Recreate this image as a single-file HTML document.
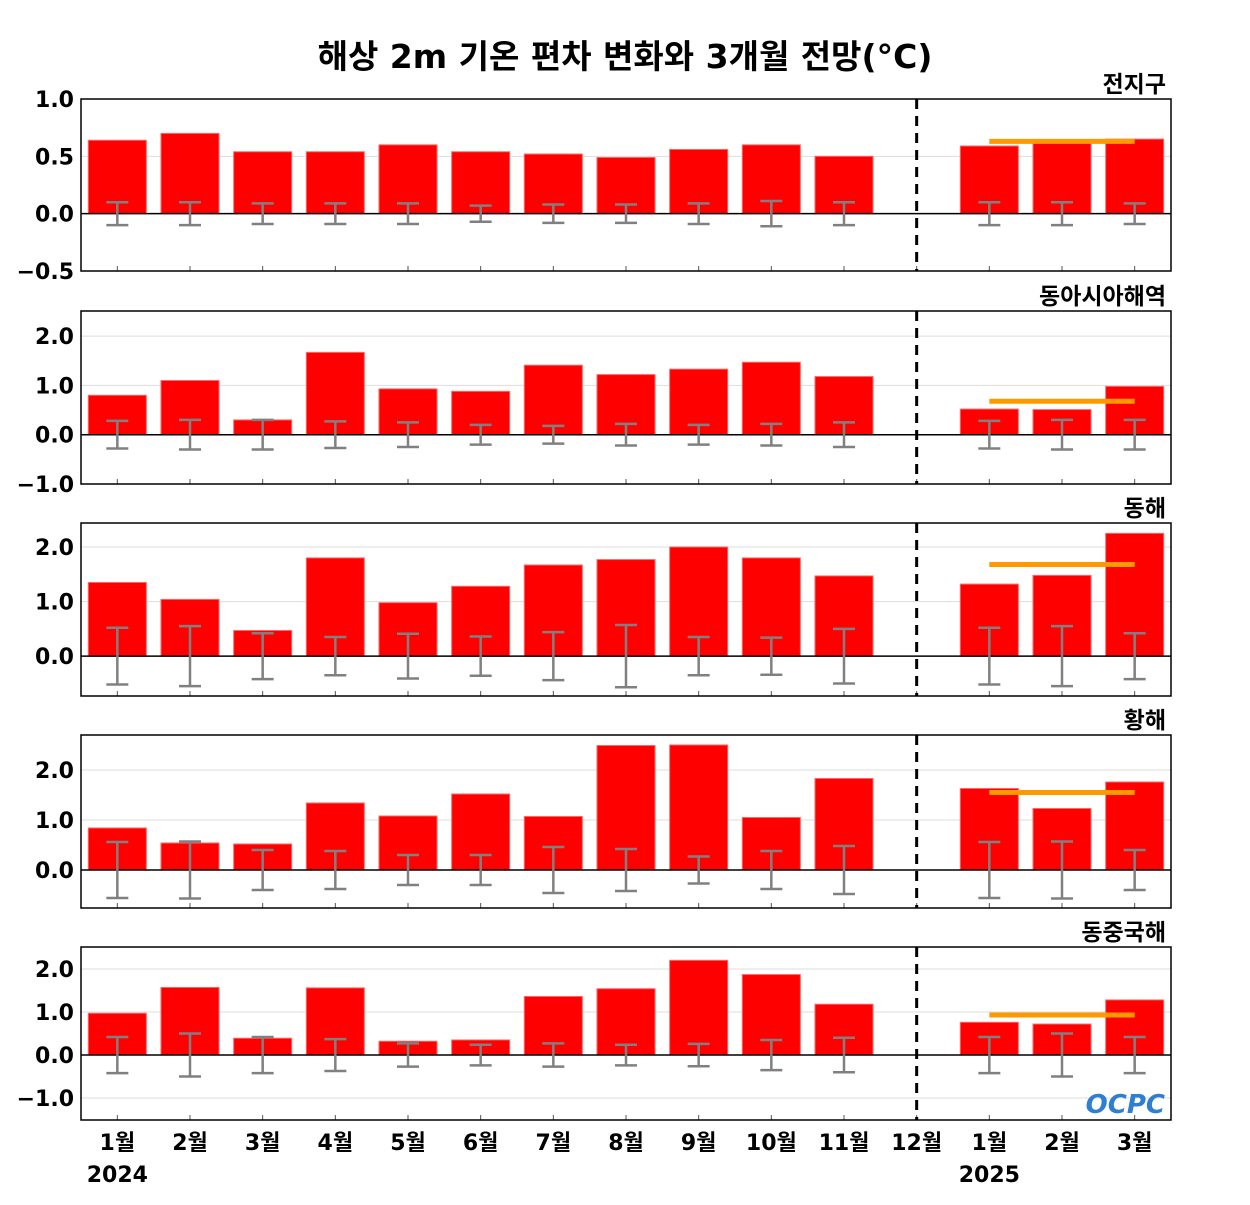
<!DOCTYPE html>
<html><head><meta charset="utf-8"><style>
body{margin:0;background:#fff;}
svg text{font-family:"DejaVu Sans","Liberation Sans","Noto Sans CJK KR",sans-serif;font-weight:bold;}
</style></head><body>
<svg id="chart" width="1250" height="1200" xmlns="http://www.w3.org/2000/svg">
<text x="625" y="68" text-anchor="middle" font-size="33">해상 2m 기온 편차 변화와 3개월 전망(°C)</text>
</svg>
<script>
const categories=["1월","2월","3월","4월","5월","6월","7월","8월","9월","10월","11월","12월","1월","2월","3월"];
const regionNames=["전지구","동아시아해역","동해","황해","동중국해"];
const globalVals=[0.64,0.70,0.54,0.54,0.60,0.54,0.52,0.49,0.56,0.60,0.50,0,0.59,0.64,0.65];
const eastAsiaVals=[0.80,1.10,0.30,1.67,0.93,0.88,1.41,1.22,1.33,1.47,1.18,0,0.52,0.51,0.98];
const eastSeaVals=[1.35,1.04,0.47,1.80,0.98,1.28,1.67,1.77,2.00,1.80,1.47,0,1.32,1.48,2.25];
const yellowSeaVals=[0.84,0.54,0.52,1.34,1.08,1.52,1.07,2.49,2.50,1.05,1.83,0,1.63,1.23,1.76];
const ecsVals=[0.97,1.57,0.39,1.56,0.32,0.35,1.36,1.54,2.20,1.87,1.18,0,0.76,0.72,1.28];
const globalErr=[0.10,0.10,0.09,0.09,0.09,0.07,0.08,0.08,0.09,0.11,0.10,0,0.10,0.10,0.09];
const eastAsiaErr=[0.28,0.30,0.30,0.27,0.25,0.20,0.18,0.22,0.20,0.22,0.25,0,0.28,0.30,0.30];
const eastSeaErr=[0.52,0.55,0.42,0.35,0.41,0.36,0.44,0.57,0.35,0.34,0.50,0,0.52,0.55,0.42];
const yellowSeaErr=[0.56,0.57,0.40,0.38,0.30,0.30,0.46,0.42,0.27,0.38,0.48,0,0.56,0.57,0.40];
const ecsErr=[0.42,0.50,0.42,0.37,0.27,0.24,0.27,0.24,0.26,0.35,0.40,0,0.42,0.50,0.42];
const forecastMeans=[0.63,0.68,1.68,1.55,0.93];
const yTicks1=[-0.5,0.0,0.5,1.0];
const yTicks2=[-1.0,0.0,1.0,2.0];
const yTicks3=[0.0,1.0,2.0];
const yTicks4=[0.0,1.0,2.0];
const yTicks5=[-1.0,0.0,1.0,2.0];
const yearLabels=["2024","2025"];

const panels=[
 {vals:globalVals,err:globalErr,ticks:yTicks1,top:99,bot:271,ymin:-0.5,ymax:1.0},
 {vals:eastAsiaVals,err:eastAsiaErr,ticks:yTicks2,top:311,bot:484,ymin:-1.0,ymax:2.51},
 {vals:eastSeaVals,err:eastSeaErr,ticks:yTicks3,top:523,bot:696,ymin:-0.73,ymax:2.44},
 {vals:yellowSeaVals,err:yellowSeaErr,ticks:yTicks4,top:735,bot:908,ymin:-0.76,ymax:2.7},
 {vals:ecsVals,err:ecsErr,ticks:yTicks5,top:947,bot:1120,ymin:-1.51,ymax:2.51}
];
const svg=document.getElementById('chart');
const NS="http://www.w3.org/2000/svg";
function mk(tag,attrs,parent){const e=document.createElementNS(NS,tag);for(const k in attrs)e.setAttribute(k,attrs[k]);(parent||svg).appendChild(e);return e;}
const L=81,R=1171;const step=(R-L)/categories.length;
function xc(i){return L+step*(i+0.5);}
panels.forEach((p,pi)=>{
 const g=mk('g',{});
 
 
 const y=v=>p.bot-(v-p.ymin)/(p.ymax-p.ymin)*(p.bot-p.top);
 p.ticks.forEach(t=>{
  const gl=mk('line',{x1:L,x2:R,y1:y(t),y2:y(t),stroke:'#dddddd','stroke-width':1},g);
  
  
  const tl=mk('text',{x:74,y:y(t)+8,'text-anchor':'end','font-size':22},g);
  tl.textContent=(t<0?'\u2212':'')+Math.abs(t).toFixed(1);
  
  
 });
 p.vals.forEach((v,i)=>{
  const b=mk('rect',{x:xc(i)-29,y:Math.min(y(v),y(0)),width:58,height:Math.abs(y(v)-y(0)),fill:'#ff0000',stroke:'#ff6666','stroke-width':1},g);
  
  
 });
 mk('line',{x1:L,x2:R,y1:y(0),y2:y(0),stroke:'#000','stroke-width':1.5},g);
 p.err.forEach((e,i)=>{
  if(e<=0)return;
  const eb=mk('path',{d:`M${xc(i)},${y(e)}V${y(-e)}M${xc(i)-11},${y(e)}H${xc(i)+11}M${xc(i)-11},${y(-e)}H${xc(i)+11}`,stroke:'#808080','stroke-width':2.5,fill:'none'},g);
  
  
 });
 categories.forEach((c,i)=>{mk('line',{x1:xc(i),x2:xc(i),y1:p.bot,y2:p.bot-5,stroke:'#555','stroke-width':1},g);});
 const fm=mk('line',{x1:xc(12),x2:xc(14),y1:y(forecastMeans[pi]),y2:y(forecastMeans[pi]),stroke:'#ff9900','stroke-width':5},g);
 
 
 const dl=mk('line',{x1:xc(11),x2:xc(11),y1:p.top,y2:p.bot,stroke:'#000','stroke-width':3,'stroke-dasharray':'10,7'},g);
 
 
 const fr=mk('rect',{x:L,y:p.top,width:R-L,height:p.bot-p.top,fill:'none',stroke:'#000','stroke-width':1.5},g);
 
 
 const rt=mk('text',{x:1166,y:p.top-7,'text-anchor':'end','font-size':23},g);
 rt.textContent=regionNames[pi];
 
 
});
categories.forEach((c,i)=>{
 const t=mk('text',{x:xc(i),y:1150,'text-anchor':'middle','font-size':22});
 t.textContent=c;
 
 
});
[0,12].forEach((i,k)=>{
 const t=mk('text',{x:xc(i),y:1182,'text-anchor':'middle','font-size':22});
 t.textContent=yearLabels[k];
 
 
});
const logo=mk('text',{x:1165,y:1113,'text-anchor':'end','font-size':26,fill:'#2f7fd0','font-style':'italic'});
logo.textContent='OCPC';


</script>
</body></html>
